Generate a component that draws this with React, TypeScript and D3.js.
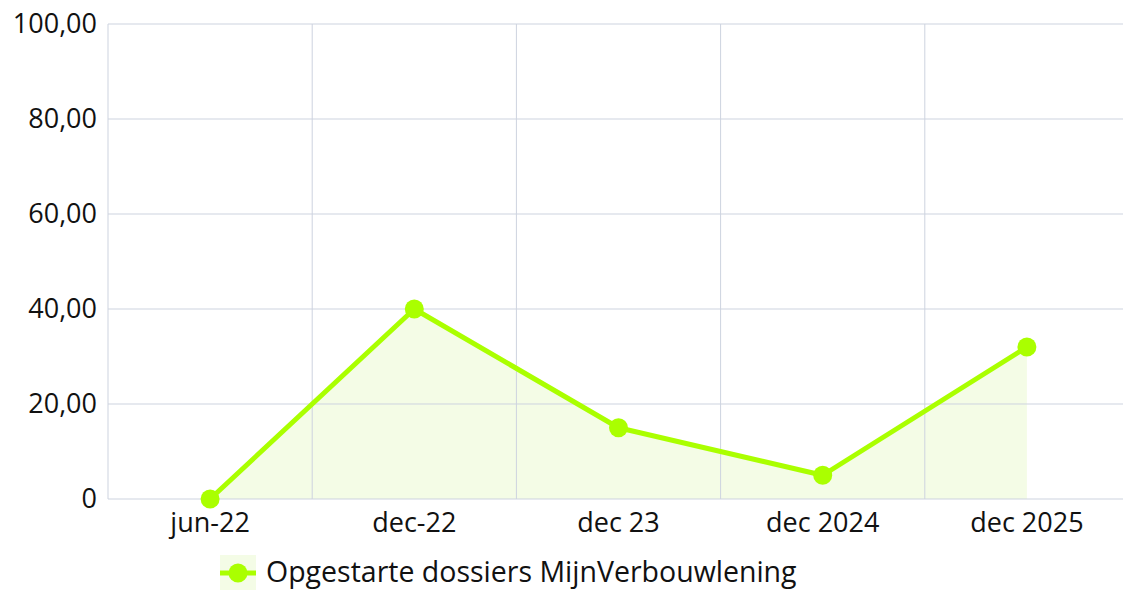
import React from "react";
import * as d3 from "d3";

const categories = ["jun-22", "dec-22", "dec 23", "dec 2024", "dec 2025"];
const values = [0, 40, 15, 5, 32];
const yTicks = [0, 20, 40, 60, 80, 100];
const seriesName = "Opgestarte dossiers MijnVerbouwlening";

const W = 1123, H = 590;
const left = 108, right = 1129, top = 24, bottom = 499;
const lineColor = "#aaff00";
const fillColor = "#f4fce6";
const gridColor = "#cdd3df";
const font = "'Open Sans', 'Noto Sans', sans-serif";

export default function App() {
  const x = d3.scaleBand<string>().domain(categories).range([left, right]);
  const y = d3.scaleLinear().domain([0, 100]).range([bottom, top]);
  const cx = (c: string) => (x(c) as number) + x.bandwidth() / 2;
  const pts: [number, number][] = categories.map((c, i) => [cx(c), y(values[i])]);
  const line = d3.line()(pts) as string;
  const area = d3.area<[number, number]>().x(d => d[0]).y0(y(0)).y1(d => d[1])(pts) as string;
  const fmt = (v: number) => (v === 0 ? "0" : v.toFixed(2).replace(".", ","));
  return (
    <svg width={W} height={H} style={{ position: "absolute", left: 0, top: 0 }} fontFamily={font}>
      <rect x={0} y={0} width={W} height={H} fill="#fff" />
      <path d={area} fill={fillColor} />
      {yTicks.map(t => (
        <line key={"y" + t} x1={left} x2={W} y1={y(t)} y2={y(t)} stroke={gridColor} strokeWidth={1} />
      ))}
      {categories.map((c, i) => (
        <line key={"x" + c} x1={(x(c) as number)} x2={(x(c) as number)} y1={top} y2={bottom} stroke={gridColor} strokeWidth={1} />
      ))}
      {yTicks.map(t => (
        <text key={"yl" + t} x={97} y={y(t) + 9} textAnchor="end" fontSize={27} fill="#111">{fmt(t)}</text>
      ))}
      {categories.map(c => (
        <text key={"xl" + c} x={cx(c)} y={532} textAnchor="middle" fontSize={27} fill="#111">{c}</text>
      ))}
      <path d={line} fill="none" stroke={lineColor} strokeWidth={5} strokeLinejoin="round" />
      {pts.map((p, i) => (
        <circle key={"p" + i} cx={p[0]} cy={p[1]} r={9.5} fill={lineColor} />
      ))}
      <g>
        <rect x={220} y={555} width={36} height={35} fill={fillColor} />
        <line x1={220} x2={256} y1={573} y2={573} stroke={lineColor} strokeWidth={5} />
        <circle cx={238} cy={573} r={9.5} fill={lineColor} />
        <text x={266} y={582} fontSize={28.5} fill="#111">{seriesName}</text>
      </g>
    </svg>
  );
}
